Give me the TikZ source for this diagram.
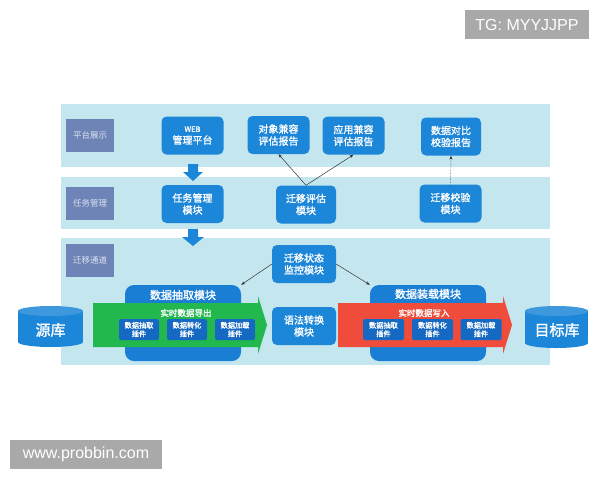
\documentclass[tikz,border=0pt]{standalone}
\usepackage{fontspec}
\setmainfont[AutoFakeBold=1.6]{Noto Sans CJK SC}
\newfontfamily\wmfont{Liberation Sans}
\usetikzlibrary{arrows.meta}
\definecolor{bandc}{HTML}{C4E6EF}
\definecolor{labc}{HTML}{6E84B6}
\definecolor{labt}{HTML}{DDE4F2}
\definecolor{modc}{HTML}{1C86D8}
\definecolor{bigc}{HTML}{1A7ED4}
\definecolor{plugc}{HTML}{1669C2}
\definecolor{greenc}{HTML}{22B84E}
\definecolor{redc}{HTML}{EF4C3B}
\definecolor{wmc}{HTML}{A9A9A9}
\definecolor{linec}{HTML}{333333}
\begin{document}
\begin{tikzpicture}[x=1pt,y=-1pt,
  band/.style={fill=bandc,draw=none},
  lab/.style={fill=labc,text=labt,font=\fontsize{8.5}{10}\selectfont,inner sep=0pt,minimum width=48pt,minimum height=33pt},
  mod/.style={fill=modc,rounded corners=5pt,text=white,align=center,font=\bfseries\fontsize{10}{12}\selectfont,inner sep=0pt,minimum width=62pt,minimum height=38pt},
  big/.style={fill=bigc,rounded corners=9pt,inner sep=0pt,minimum width=116pt,minimum height=76pt},
  plug/.style={fill=plugc,rounded corners=2pt,text=white,align=center,font=\bfseries\fontsize{7.2}{8.5}\selectfont,inner sep=0pt,minimum width=40pt,minimum height=21pt},
  conn/.style={draw=linec,line width=0.5pt,-{Stealth[length=4pt,width=3pt]}},
  thick arrow/.style={fill=modc,draw=none},
  wm/.style={fill=wmc,text=white,font=\wmfont\fontsize{16}{18}\selectfont,inner sep=0pt}
]
\useasboundingbox (0,0) rectangle (600,480);
\fill[white] (0,0) rectangle (600,480);
% bands
\fill[band] (61,104) rectangle (550,167);
\fill[band] (61,177) rectangle (550,229);
\fill[band] (61,238) rectangle (550,365);
% band labels
\node[lab] (l1) at (90,135.5) {平台展示};
\node[lab] (l2) at (90,203) {任务管理};
\node[lab] (l3) at (90,260.5) {迁移通道};
% row 1
\node[mod] (web) at (192.5,135.5) {{\fontsize{7.5}{9}\selectfont WEB}\\管理平台};
\node[mod] (dx) at (278.5,135) {对象兼容\\评估报告};
\node[mod] (yy) at (353.5,135.5) {应用兼容\\评估报告};
\node[mod,minimum width=60pt] (db) at (451,136.5) {数据对比\\校验报告};
% row 2
\node[mod] (rw) at (192.5,204) {任务管理\\模块};
\node[mod,minimum width=60pt] (pg) at (306,204.5) {迁移评估\\模块};
\node[mod] (jy) at (450.5,203.5) {迁移校验\\模块};
% row 3
\node[mod,minimum width=64pt] (jk) at (304,264) {迁移状态\\监控模块};
\node[mod,minimum width=64pt] (yf) at (304,326) {语法转换\\模块};
\node[big] (b1) at (183,323) {};
\node[big] (b2) at (428,323) {};
% flow arrows
\fill[greenc] (93,303) -- (258,303) -- (258,296) -- (267,325) -- (258,354) -- (258,347) -- (93,347) -- cycle;
\fill[redc] (338,303) -- (503,303) -- (503,296) -- (512,325) -- (503,354) -- (503,347) -- (338,347) -- cycle;
\node[text=white,font=\bfseries\fontsize{11}{13}\selectfont] (t1) at (183,295) {数据抽取模块};
\node[text=white,font=\bfseries\fontsize{11}{13}\selectfont] (t2) at (428,294) {数据装载模块};
\node[text=white,font=\bfseries\fontsize{8.5}{10}\selectfont] (e1) at (186,313) {实时数据导出};
\node[text=white,font=\bfseries\fontsize{8.5}{10}\selectfont] (e2) at (424,313) {实时数据写入};
\node[plug] (p1) at (139,329.5) {数据抽取\\插件};
\node[plug] (p2) at (187,329.5) {数据转化\\插件};
\node[plug] (p3) at (235,329.5) {数据加载\\插件};
\node[plug,minimum width=41pt] (p4) at (383.5,329.5) {数据抽取\\插件};
\node[plug,minimum width=41pt] (p5) at (432.5,329.5) {数据转化\\插件};
\node[plug,minimum width=41pt] (p6) at (481,329.5) {数据加载\\插件};
% cylinders
\fill[modc] (18,311) rectangle (83,342);
\fill[modc] (50.5,342) ellipse [x radius=32.5,y radius=5];
\fill[modc!85!white] (50.5,311) ellipse [x radius=32.5,y radius=5];
\node[text=white,font=\bfseries\fontsize{15}{17}\selectfont] (src) at (50.5,330) {源库};
\fill[modc] (525,311) rectangle (588,343);
\fill[modc] (556.5,343) ellipse [x radius=31.5,y radius=5];
\fill[modc!85!white] (556.5,311) ellipse [x radius=31.5,y radius=5];
\node[text=white,font=\bfseries\fontsize{15}{17}\selectfont] (dst) at (557,330) {目标库};
% thick down arrows
\fill[thick arrow] (188,164) -- (198,164) -- (198,172) -- (203,172) -- (193,181) -- (183,172) -- (188,172) -- cycle;
\fill[thick arrow] (188,229) -- (198,229) -- (198,237) -- (204,237) -- (193,246) -- (182,237) -- (188,237) -- cycle;
% thin connectors
\draw[conn] (pg.north) -- (dx.south);
\draw[conn] (pg.north) -- (yy.south);
\draw[conn,densely dotted] (jy.north) -- (db.south);
\draw[conn] (jk.west) -- (b1.north east);
\draw[conn] (jk.east) -- (b2.north west);
% watermarks
\node[wm,minimum width=124pt,minimum height=29pt] (w1) at (527,24.5) {TG: MYYJJPP};
\node[wm,minimum width=152pt,minimum height=29pt] (w2) at (86,454.5) {www.probbin.com};
\end{tikzpicture}
\end{document}
